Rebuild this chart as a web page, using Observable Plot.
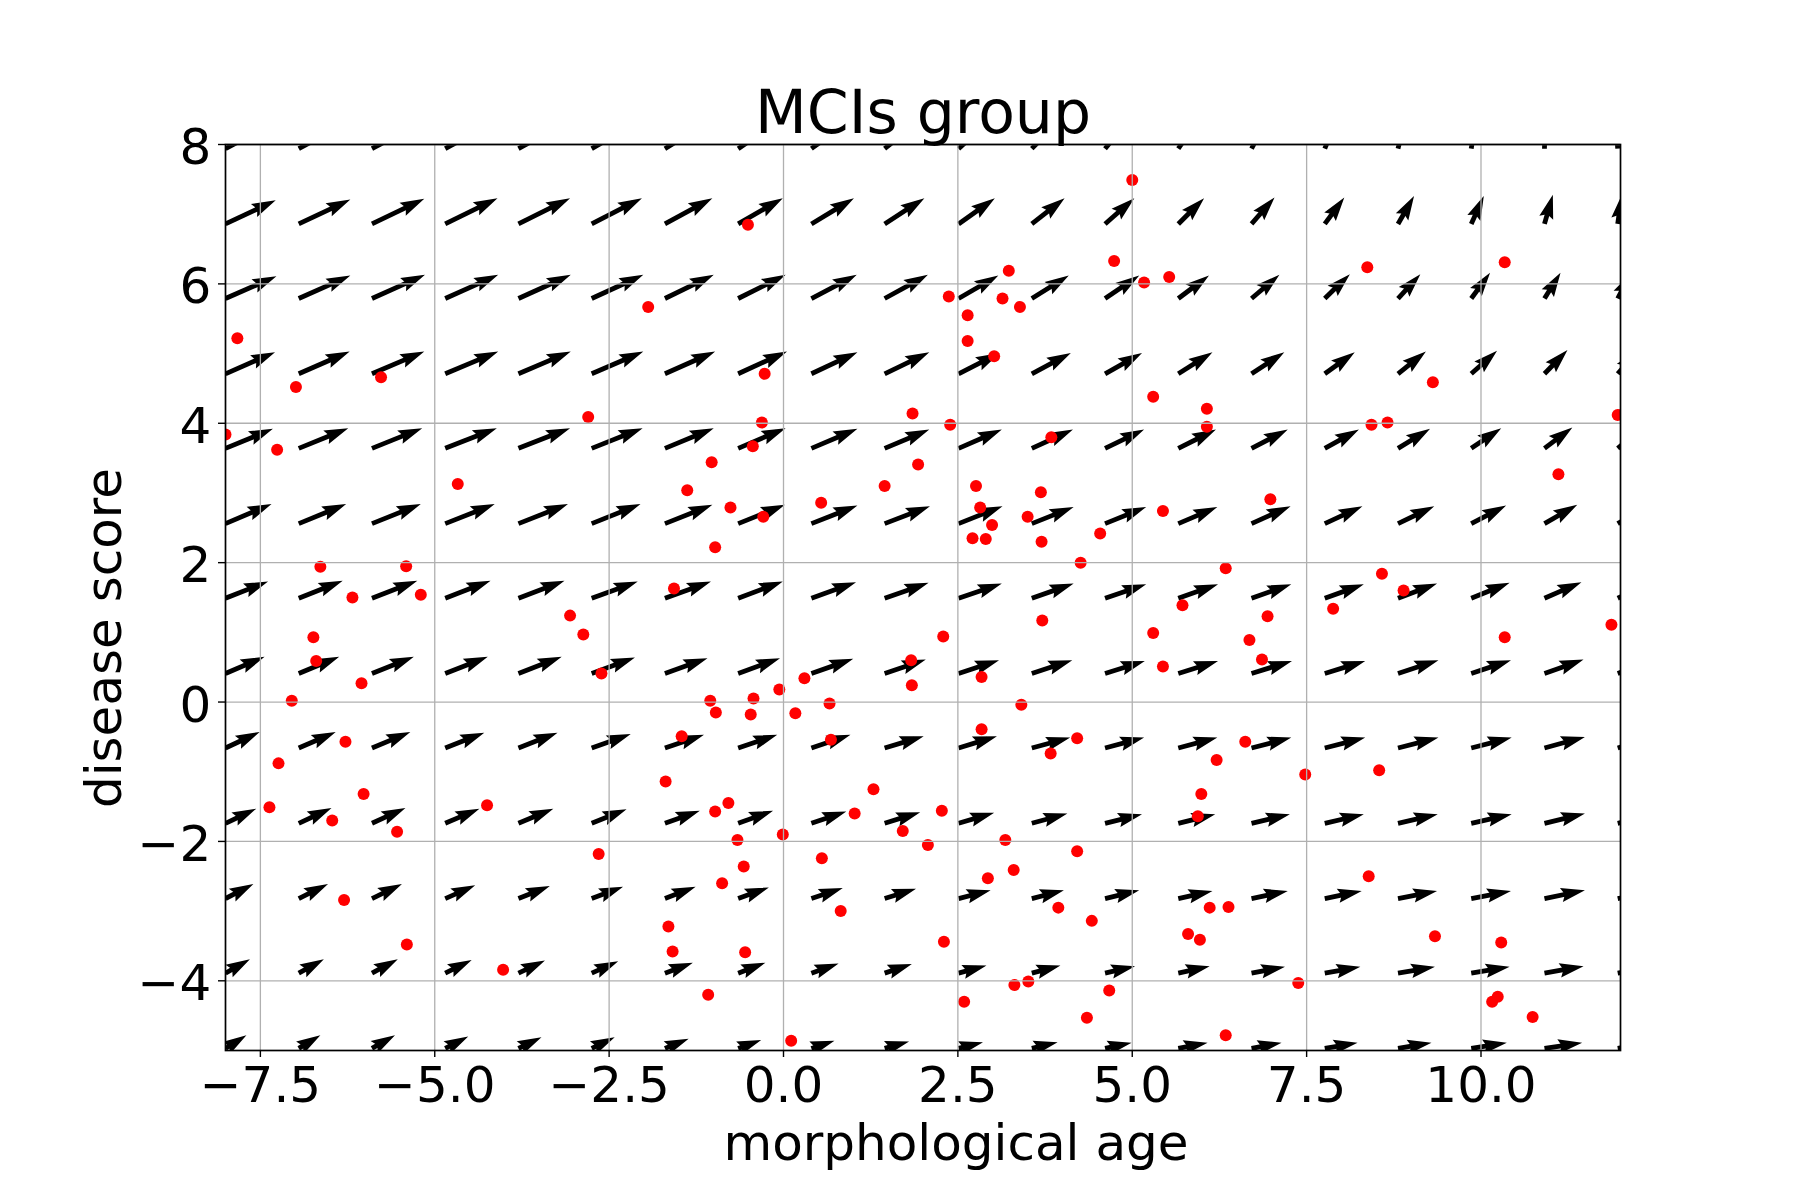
<!DOCTYPE html>
<html>
<head>
<meta charset="utf-8">
<script src="https://cdn.jsdelivr.net/npm/d3@7"></script>
<script src="https://cdn.jsdelivr.net/npm/@observablehq/plot@0.6"></script>
<style>
  html, body { margin: 0; padding: 0; background: #ffffff; }
</style>
</head>
<body>
<script>
// ---- quiver grid ----
const gridX = [-8.00, -6.95, -5.90, -4.85, -3.80, -2.75, -1.70, -0.65, 0.40, 1.45,
               2.51, 3.56, 4.61, 5.66, 6.71, 7.76, 8.81, 9.86, 10.91, 11.96];
const gridY = [-4.97, -3.89, -2.82, -1.74, -0.66, 0.41, 1.49, 2.56, 3.64, 4.71, 5.79, 6.86, 7.94];

// arrow components (data units), one row per gridY value, one entry per gridX value
const arrowU = [
  [.30,.31,.33,.33,.33,.33,.34,.33,.33,.35,.35,.37,.38,.42,.43,.47,.48,.51,.54,.55],
  [.35,.36,.37,.38,.38,.38,.40,.39,.39,.39,.40,.41,.43,.45,.48,.51,.53,.55,.56,.57],
  [.40,.42,.43,.43,.45,.45,.44,.44,.45,.45,.46,.46,.49,.49,.52,.53,.56,.57,.58,.59],
  [.44,.47,.48,.49,.50,.50,.50,.50,.50,.51,.51,.51,.53,.53,.55,.56,.57,.58,.58,.59],
  [.49,.53,.55,.56,.56,.56,.56,.56,.56,.56,.55,.55,.56,.56,.57,.58,.58,.58,.58,.57],
  [.56,.58,.60,.61,.62,.62,.61,.60,.60,.59,.58,.58,.57,.57,.58,.58,.58,.57,.56,.55],
  [.61,.63,.65,.65,.66,.66,.66,.64,.64,.63,.62,.60,.59,.57,.57,.56,.56,.55,.53,.50],
  [.66,.68,.70,.71,.71,.70,.68,.67,.66,.65,.63,.60,.59,.56,.56,.54,.52,.50,.47,.44],
  [.68,.71,.72,.74,.74,.73,.70,.68,.66,.64,.62,.59,.56,.54,.52,.49,.46,.43,.40,.37],
  [.71,.73,.75,.76,.75,.74,.72,.70,.66,.64,.59,.56,.53,.49,.47,.43,.40,.37,.33,.29],
  [.73,.74,.76,.76,.75,.74,.70,.68,.65,.62,.57,.53,.49,.44,.40,.36,.32,.27,.23,.19],
  [.72,.74,.75,.75,.74,.72,.68,.64,.61,.57,.52,.47,.42,.37,.33,.28,.23,.18,.12,.06],
  [.69,.72,.73,.73,.72,.69,.65,.59,.55,.50,.44,.39,.33,.27,.22,.17,.11,.07,.01,-.03]
];
const arrowV = [
  [.19,.19,.19,.17,.16,.16,.14,.12,.11,.10,.09,.09,.08,.08,.08,.08,.08,.08,.08,.09],
  [.20,.20,.20,.19,.18,.17,.15,.15,.14,.13,.11,.11,.10,.10,.09,.09,.09,.09,.10,.10],
  [.21,.21,.21,.19,.18,.17,.17,.16,.15,.14,.12,.12,.12,.11,.11,.11,.11,.11,.12,.12],
  [.21,.22,.22,.21,.21,.20,.18,.18,.17,.16,.15,.14,.13,.13,.13,.13,.13,.13,.14,.14],
  [.23,.23,.23,.22,.22,.20,.19,.19,.19,.17,.17,.15,.15,.15,.15,.15,.15,.15,.16,.17],
  [.24,.24,.24,.24,.24,.23,.22,.22,.21,.20,.19,.19,.18,.18,.18,.18,.19,.19,.20,.20],
  [.24,.25,.25,.25,.25,.24,.24,.24,.23,.22,.21,.21,.20,.20,.20,.20,.21,.22,.23,.23],
  [.28,.28,.28,.28,.28,.28,.27,.27,.26,.25,.25,.24,.24,.24,.25,.25,.25,.26,.27,.27],
  [.28,.29,.29,.29,.29,.29,.29,.29,.28,.27,.27,.27,.27,.27,.27,.27,.28,.29,.30,.31],
  [.31,.32,.32,.32,.32,.32,.32,.32,.31,.31,.30,.30,.30,.31,.31,.31,.32,.33,.34,.34],
  [.32,.33,.34,.34,.34,.34,.34,.34,.34,.34,.33,.33,.33,.33,.34,.35,.35,.37,.37,.37],
  [.34,.35,.36,.37,.37,.37,.37,.37,.37,.37,.37,.37,.37,.37,.38,.38,.40,.40,.42,.42],
  [.37,.39,.39,.40,.40,.40,.40,.40,.40,.40,.40,.40,.40,.40,.42,.42,.43,.44,.46,.46]
];

// ---- red subjects ----
const pointsX = [
  -7.83,-6.99,-5.77,-2.80,-1.94,-8.00,-7.26,-4.67,-1.38,-6.64,-5.41,-6.18,-5.20,-1.57,
  -0.51,5.00,4.74,5.17,3.23,3.14,3.39,2.37,2.64,2.64,3.02,-0.27,5.30,1.85,-0.31,2.39,
  -0.44,3.84,-1.03,1.93,1.45,2.76,3.69,-0.76,0.54,-0.29,2.82,3.50,2.99,2.71,2.90,3.70,
  -0.98,4.54,4.26,5.44,5.53,8.37,10.34,9.31,6.07,6.07,8.43,8.66,11.96,6.98,11.11,6.34,
  8.58,8.89,-6.74,-6.70,-6.05,-7.05,-3.06,-2.87,-2.61,-6.28,-7.24,-6.02,-7.37,-6.47,
  -5.54,-4.25,-1.46,-1.69,-2.65,-6.30,-5.40,-4.02,-1.65,-1.59,3.71,2.29,5.30,5.44,
  1.83,1.84,2.84,0.30,-0.06,-1.05,-0.97,-0.43,-0.47,0.17,0.66,3.41,0.68,2.84,3.83,4.21,
  1.29,-0.79,-0.98,1.02,2.27,1.71,-0.01,-0.66,2.07,3.18,-0.57,0.55,-0.88,4.21,3.30,2.93,
  0.82,3.94,4.42,2.30,-0.55,-1.08,3.31,3.51,2.59,4.67,4.35,0.11,5.72,6.94,6.68,6.86,
  7.88,10.34,11.87,6.62,6.21,7.48,8.54,5.99,5.94,8.39,6.11,6.38,5.80,5.97,9.34,10.29,
  7.38,10.24,10.16,10.74,6.34
];
const pointsY = [
  5.22,4.52,4.66,4.09,5.67,3.84,3.62,3.13,3.04,1.94,1.95,1.50,1.54,1.63,
  6.85,7.49,6.33,6.02,6.19,5.79,5.67,5.82,5.55,5.18,4.96,4.71,4.38,4.14,4.01,3.98,
  3.67,3.80,3.44,3.41,3.10,3.10,3.01,2.79,2.86,2.66,2.79,2.66,2.54,2.35,2.34,2.30,
  2.22,2.42,2.00,2.74,6.10,6.24,6.31,4.59,4.21,3.95,3.98,4.01,4.12,2.91,3.27,1.92,
  1.84,1.60,0.93,0.59,0.27,0.02,1.24,0.97,0.41,-0.57,-0.88,-1.32,-1.51,-1.70,
  -1.86,-1.48,-0.49,-1.14,-2.18,-2.84,-3.48,-3.84,-3.22,-3.58,1.17,0.94,0.99,0.51,
  0.60,0.24,0.36,0.34,0.18,0.02,-0.15,0.05,-0.18,-0.16,-0.02,-0.04,-0.54,-0.39,-0.74,-0.52,
  -1.25,-1.45,-1.57,-1.60,-1.56,-1.85,-1.90,-1.98,-2.05,-1.98,-2.36,-2.24,-2.60,-2.14,-2.41,-2.53,
  -3.00,-2.95,-3.14,-3.44,-3.59,-4.20,-4.06,-4.01,-4.30,-4.14,-4.53,-4.86,1.39,1.23,0.89,0.61,
  1.34,0.93,1.11,-0.57,-0.83,-1.04,-0.98,-1.32,-1.64,-2.50,-2.95,-2.94,-3.33,-3.41,-3.36,-3.45,
  -4.03,-4.23,-4.30,-4.52,-4.78
];

// ---- axis ticks ----
const xTicks = [-7.5, -5, -2.5, 0, 2.5, 5, 7.5, 10];
const yTicks = [-4, -2, 0, 2, 4, 6, 8];

const titleText = "MCIs group";
const xLabel = "morphological age";
const yLabel = "disease score";

// ---- tables built from the arrays ----
const arrows = [];
gridY.forEach((y, r) => gridX.forEach((x, c) => {
  const u = arrowU[r][c], v = arrowV[r][c];
  arrows.push({x, y, tx: x + u, ty: y + v, angle: Math.atan2(u, v) * 180 / Math.PI});
}));
const points = pointsX.map((x, i) => ({x, y: pointsY[i]}));

// matplotlib-like filled, notched arrow head (tip at the anchor)
const quiverHead = {
  draw(ctx, l) {
    const hw = 7.2, sw = 2.4, ha = 21.6;
    ctx.moveTo(0, -l);
    ctx.lineTo(hw, 0);
    ctx.lineTo(sw, -l + ha);
    ctx.lineTo(-sw, -l + ha);
    ctx.lineTo(-hw, 0);
    ctx.closePath();
  }
};

const chart = Plot.plot({
  width: 1800,
  height: 1200,
  marginLeft: 225,
  marginRight: 180,
  marginTop: 144,
  marginBottom: 150,
  x: {domain: [-8, 12], label: null},
  y: {domain: [-5, 8], label: null},
  style: {fontFamily: "'DejaVu Sans', sans-serif", fontSize: "50px", background: "#ffffff", color: "#000000"},
  marks: [
    Plot.arrow(arrows, {x1: "x", y1: "y", x2: "tx", y2: "ty", headLength: 0, insetEnd: 10,
      stroke: "#000000", strokeWidth: 4.8, strokeLinecap: "butt", clip: "frame"}),
    Plot.vector(arrows, {x: "tx", y: "ty", rotate: "angle", length: 24, anchor: "end",
      shape: quiverHead, fill: "#000000", stroke: "none", clip: "frame"}),
    Plot.dot(points, {x: "x", y: "y", r: 6, fill: "#ff0000", stroke: "none", clip: "frame"}),
    Plot.gridX(xTicks, {stroke: "#b0b0b0", strokeOpacity: 1, strokeWidth: 1.3}),
    Plot.gridY(yTicks, {stroke: "#b0b0b0", strokeOpacity: 1, strokeWidth: 1.3}),
    Plot.frame({stroke: "#000000", strokeWidth: 1.7}),
    Plot.axisX(xTicks, {tickSize: 7, tickPadding: 9.2, strokeWidth: 1.4, fontSize: 50,
      tickFormat: d3.format(".1f"), label: null}),
    Plot.axisY(yTicks, {tickSize: 7, strokeWidth: 1.4, fill: "none", label: null}),
    Plot.axisY(yTicks, {tickSize: 7, tickPadding: 7.3, stroke: "none", dy: 3.5, fontSize: 50,
      tickFormat: d3.format("d"), label: null}),
    Plot.text([titleText], {frameAnchor: "top", dy: -12, lineAnchor: "bottom", textAnchor: "middle", fontSize: 60, fill: "#000000"}),
    Plot.text([xLabel], {frameAnchor: "bottom", dx: 33, dy: 109, lineAnchor: "bottom", textAnchor: "middle", fontSize: 50, fill: "#000000"}),
    Plot.text([yLabel], {frameAnchor: "left", dx: -105, dy: 40.5, rotate: -90, lineAnchor: "bottom", textAnchor: "middle", fontSize: 50, fill: "#000000"})
  ]
});
document.body.appendChild(chart);
</script>
</body>
</html>
